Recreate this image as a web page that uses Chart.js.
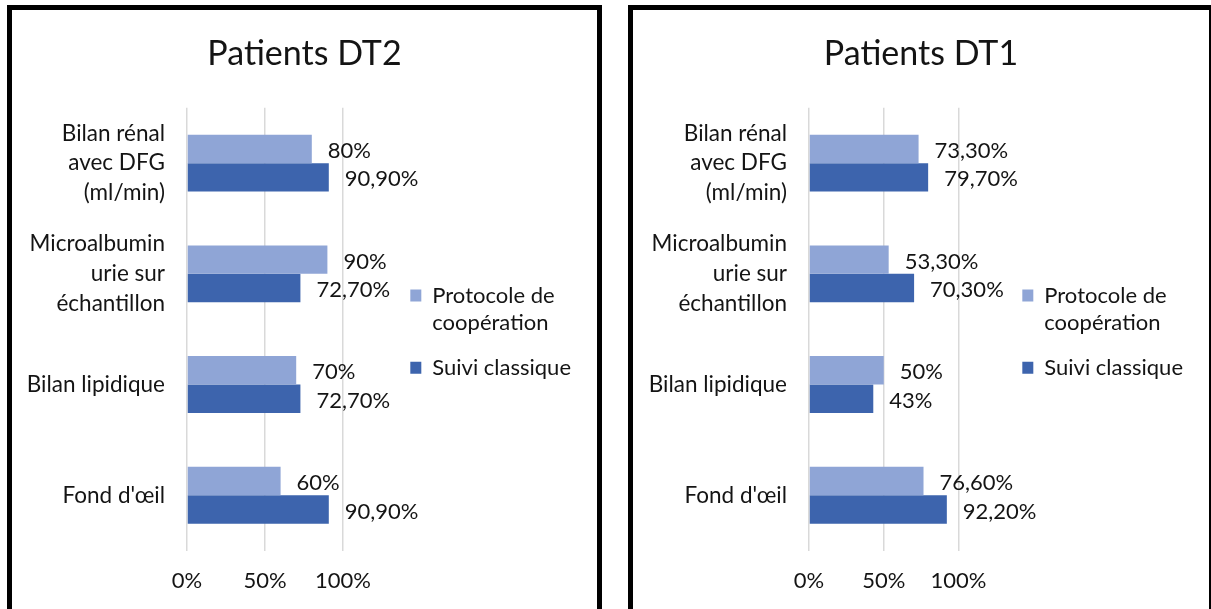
<!DOCTYPE html>
<html>
<head>
<meta charset="utf-8">
<script src="https://cdn.jsdelivr.net/npm/chart.js@4.4.1/dist/chart.umd.min.js"></script>
<style>
  html, body { margin: 0; padding: 0; background: #fff; overflow: hidden; }
  body { width: 1211px; height: 609px; position: relative; }
  .panel { position: absolute; top: 5px; border: 5px solid #000; background: #fff; }
  #panel-dt2 { left: 7px; width: 585px; height: 615px; }
  #panel-dt1 { left: 628px; width: 576px; height: 615px; }
  canvas { display: block; margin-left: 16px; }
</style>
</head>
<body>
<div class="panel" id="panel-dt2"><canvas id="chart-dt2" width="553" height="615"></canvas></div>
<div class="panel" id="panel-dt1"><canvas id="chart-dt1" width="544" height="615"></canvas></div>

<script>
// ---- data (percent) ----
const categories = [
    ['Bilan rénal', 'avec DFG', '(ml/min)'],
    ['Microalbumin', 'urie sur', 'échantillon'],
    'Bilan lipidique',
    "Fond d'œil"
];
const seriesNames = ['Protocole de coopération', 'Suivi classique'];
const legendLines = [['Protocole de', 'coopération'], ['Suivi classique']];

const dt2Protocole = [80, 90, 70, 60];
const dt2Suivi = [90.9, 72.7, 72.7, 90.9];

const dt1Protocole = [73.3, 53.3, 50, 76.6];
const dt1Suivi = [79.7, 70.3, 43, 92.2];

const tickValues = [0, 50, 100];

// ---- style ----
const FONT = 'Lato, sans-serif';
const TEXT = '#141414';
const LIGHT = '#8FA5D6';
const DARK = '#3D64AD';
const GRID = '#D9D9D9';
const legendFont = { family: FONT, size: 22, lineHeight: 1.23 };

function fmtPct(v) {
    return Number.isInteger(v) ? v + '%' : v.toFixed(2).replace('.', ',') + '%';
}

// value labels to the right of each bar
const valueLabels = {
    id: 'valueLabels',
    afterDatasetsDraw(chart) {
        const ctx = chart.ctx;
        ctx.save();
        ctx.font = '22px ' + FONT;
        ctx.fillStyle = TEXT;
        ctx.textBaseline = 'middle';
        ctx.textAlign = 'left';
        chart.data.datasets.forEach((ds, i) => {
            chart.getDatasetMeta(i).data.forEach((bar, j) => {
                ctx.fillText(fmtPct(ds.data[j]), bar.x + 16, bar.y + 2);
            });
        });
        ctx.restore();
    }
};

// axisWidth: width of category axis, full: pixel (canvas) where 100% should sit
function makeChart(id, title, protocole, suivi, axisWidth, full) {
    const chart = new Chart(document.getElementById(id), {
        type: 'bar',
        data: {
            labels: categories,
            datasets: [
                { label: seriesNames[0], data: protocole, backgroundColor: LIGHT },
                { label: seriesNames[1], data: suivi, backgroundColor: DARK }
            ]
        },
        options: {
            indexAxis: 'y',
            responsive: false,
            animation: false,
            categoryPercentage: 0.514,
            barPercentage: 1,
            layout: { padding: { top: 0, left: 0, right: 0, bottom: 14 } },
            plugins: {
                title: {
                    display: true,
                    text: title,
                    color: TEXT,
                    font: { family: FONT, size: 34, weight: 'normal' },
                    padding: { top: 24, bottom: 33 }
                },
                legend: {
                    position: 'right',
                    align: 'center',
                    fullSize: false,
                    maxWidth: 400,
                    // empty spacer title, same font as the items
                    title: { display: true, text: ' ', padding: 0, font: { family: FONT, size: 22, lineHeight: 10 / 22 } },
                    labels: {
                        color: TEXT,
                        font: legendFont,
                        boxWidth: 11,
                        boxHeight: 12,
                        padding: 18,
                        generateLabels(ch) {
                            const items = Chart.defaults.plugins.legend.labels.generateLabels(ch);
                            items.forEach((it, i) => { it.text = legendLines[i]; it.lineWidth = 0; });
                            return items;
                        }
                    }
                },
                tooltip: { enabled: false }
            },
            scales: {
                x: {
                    min: 0,
                    max: 130,
                    afterBuildTicks: axis => { axis.ticks = tickValues.map(v => ({ value: v })); },
                    grid: { color: GRID, lineWidth: 1.5, drawTicks: false },
                    border: { display: false },
                    ticks: {
                        color: TEXT,
                        padding: 17,
                        font: { family: FONT, size: 22 },
                        callback: v => v + '%'
                    }
                },
                y: {
                    afterFit: axis => { axis.width = axisWidth; },
                    grid: { display: false, drawTicks: false },
                    border: { display: false },
                    ticks: {
                        color: TEXT,
                        padding: 22,
                        font: { family: FONT, size: 22.5, lineHeight: 1.32 }
                    }
                }
            }
        },
        plugins: [valueLabels]
    });

    // stretch the value axis so that 100% lands where the gridline belongs
    const area = chart.chartArea;
    chart.options.scales.x.max = (area.right - area.left) / (full - area.left) * 100;
    chart.update();
    return chart;
}

makeChart('chart-dt2', 'Patients DT2', dt2Protocole, dt2Suivi, 159, 315);
makeChart('chart-dt1', 'Patients DT1', dt1Protocole, dt1Suivi, 160, 309.5);
</script>
</body>
</html>
